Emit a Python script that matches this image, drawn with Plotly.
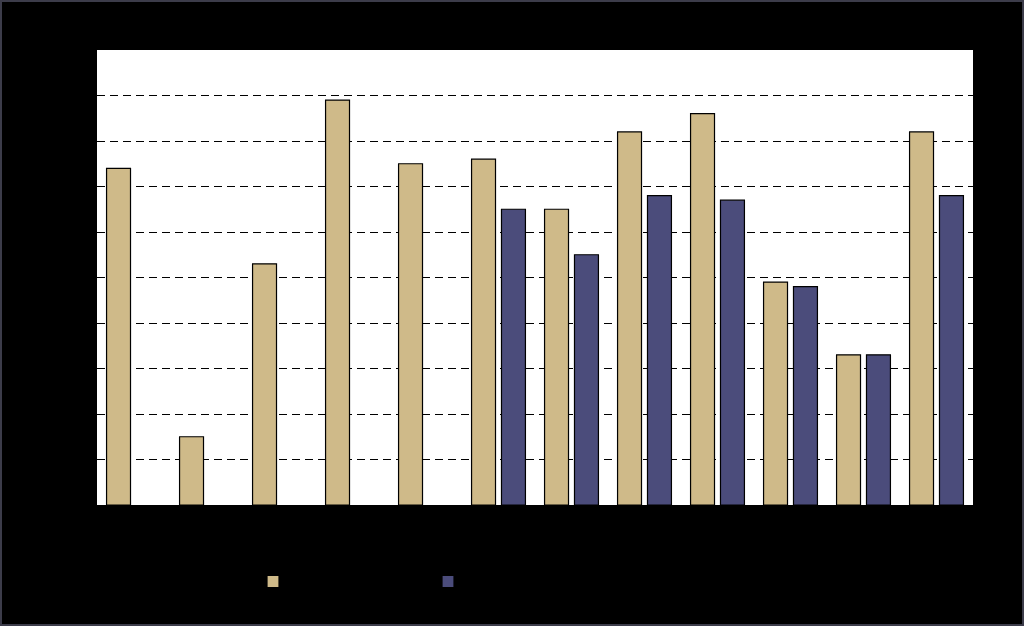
import plotly.graph_objects as go

categories = ["Cat 1", "Cat 2", "Cat 3", "Cat 4", "Cat 5", "Cat 6",
              "Cat 7", "Cat 8", "Cat 9", "Cat 10", "Cat 11", "Cat 12"]
series_a = [7.4, 1.5, 5.3, 8.9, 7.5, 7.6, 6.5, 8.2, 8.6, 4.9, 3.3, 8.2]
series_b = [None, None, None, None, None, 6.5, 5.5, 6.8, 6.7, 4.8, 3.3, 6.8]
y_ticks = [0, 1, 2, 3, 4, 5, 6, 7, 8, 9]

fig = go.Figure()
fig.add_trace(go.Bar(name="Series A", x=categories, y=series_a,
                     marker=dict(color="#CFBA89", line=dict(color="#000000", width=1.2))))
fig.add_trace(go.Bar(name="Series B", x=categories, y=series_b,
                     marker=dict(color="#4B4C7B", line=dict(color="#000000", width=1.2))))

L, R, T, B = 97, 1024 - 973, 50, 626 - 505
pw, ph = 1024 - L - R, 626 - T - B

fig.update_layout(
    width=1024, height=626,
    margin=dict(l=L, r=R, t=T, b=B, pad=0),
    paper_bgcolor="#000000", plot_bgcolor="#FFFFFF",
    barmode="group", bargap=0.18, bargroupgap=0.2,
    font=dict(family="Liberation Sans", color="#000000", size=12),
    showlegend=True,
    legend=dict(orientation="h", x=(253 - L) / pw, xanchor="left",
                y=-(567 - 505) / ph, yanchor="top",
                entrywidth=130, entrywidthmode="pixels",
                bgcolor="rgba(0,0,0,0)", font=dict(color="#000000")),
    xaxis=dict(showgrid=False, showline=False, ticks="", zeroline=False,
               tickfont=dict(color="#000000")),
    yaxis=dict(range=[0, 10], tickvals=y_ticks, showgrid=True,
               gridcolor="#000000", griddash="8px,5px", gridwidth=1.4,
               zeroline=False, showline=False, ticks="",
               tickfont=dict(color="#000000")),
    shapes=[dict(type="rect", xref="paper", yref="paper",
                 x0=-(L - 1) / pw, x1=1 + (R - 1) / pw,
                 y0=-(B - 1) / ph, y1=1 + (T - 1) / ph,
                 line=dict(color="#3C3C4A", width=2), layer="above")],
)

fig.write_html("out.html", config={"displayModeBar": False},
               post_script="document.body.style.margin='0';document.body.style.overflow='hidden';")
